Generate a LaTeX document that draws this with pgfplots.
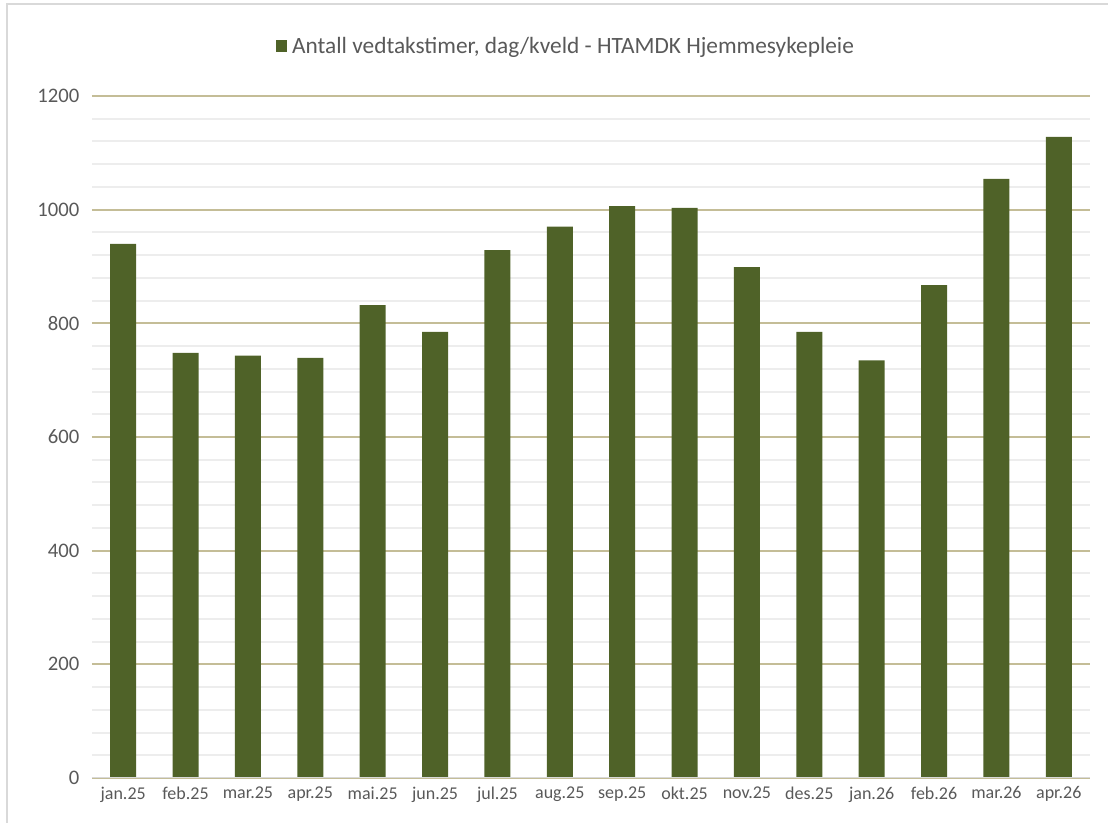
\documentclass[border=0pt]{standalone}
\usepackage{pgfplots}
\pgfplotsset{compat=1.18}
\usepackage{fontspec}
\setmainfont{Carlito}
\definecolor{barc}{HTML}{4F6228}
\definecolor{majg}{HTML}{C4BD97}
\definecolor{ming}{HTML}{EDEDED}
\definecolor{txt}{HTML}{595959}
\begin{document}
\begin{tikzpicture}
\useasboundingbox (0,0) rectangle (831pt,617.25pt);
\draw[color=black!15, line width=1.5pt] (5.25pt,0) -- (5.25pt,614.25pt) -- (831pt,614.25pt);
\begin{axis}[
  at={(69pt,33.75pt)}, anchor=south west,
  scale only axis, width=748.5pt, height=511.5pt,
  ybar, bar width=19.5pt,
  xmin=-0.5, xmax=15.5, ymin=0, ymax=1200,
  xtick=data,
  xticklabels={jan.25,feb.25,mar.25,apr.25,mai.25,jun.25,jul.25,aug.25,sep.25,okt.25,nov.25,des.25,jan.26,feb.26,mar.26,apr.26},
  ytick={0,200,...,1200},
  minor y tick num=4,
  ymajorgrids, yminorgrids,
  major grid style={majg, line width=1.5pt},
  minor grid style={ming, line width=1.5pt},
  axis line style={draw=none},
  major tick length=0pt, minor tick length=0pt,
  tick style={draw=none},
  x tick label style={font=\fontsize{13.5}{15}\selectfont, text=txt, yshift=-3pt},
  y tick label style={font=\fontsize{15.5}{17}\selectfont, text=txt, xshift=-6pt},
  /pgf/number format/assume math mode=true,
  /pgf/number format/1000 sep={},
  legend style={at={(0.475,1.0733)}, anchor=center, draw=none, fill=none,
    font=\fontsize{17.5}{20}\selectfont, text=txt},
  legend image code/.code={\fill[barc] (0pt,-4.2pt) rectangle (8.4pt,4.2pt);},
]
\addplot[fill=barc, draw=none] coordinates {
(0,940) (1,748) (2,743) (3,739) (4,832) (5,785) (6,929) (7,970)
(8,1006) (9,1003) (10,899) (11,785) (12,735) (13,867) (14,1054) (15,1128)};
\addlegendentry{\hspace{2pt}Antall vedtakstimer, dag/kveld - HTAMDK Hjemmesykepleie}
\draw[color=black!15, line width=1.5pt] (axis cs:-0.5,0) -- (axis cs:15.5,0);
\end{axis}
\end{tikzpicture}
\end{document}
